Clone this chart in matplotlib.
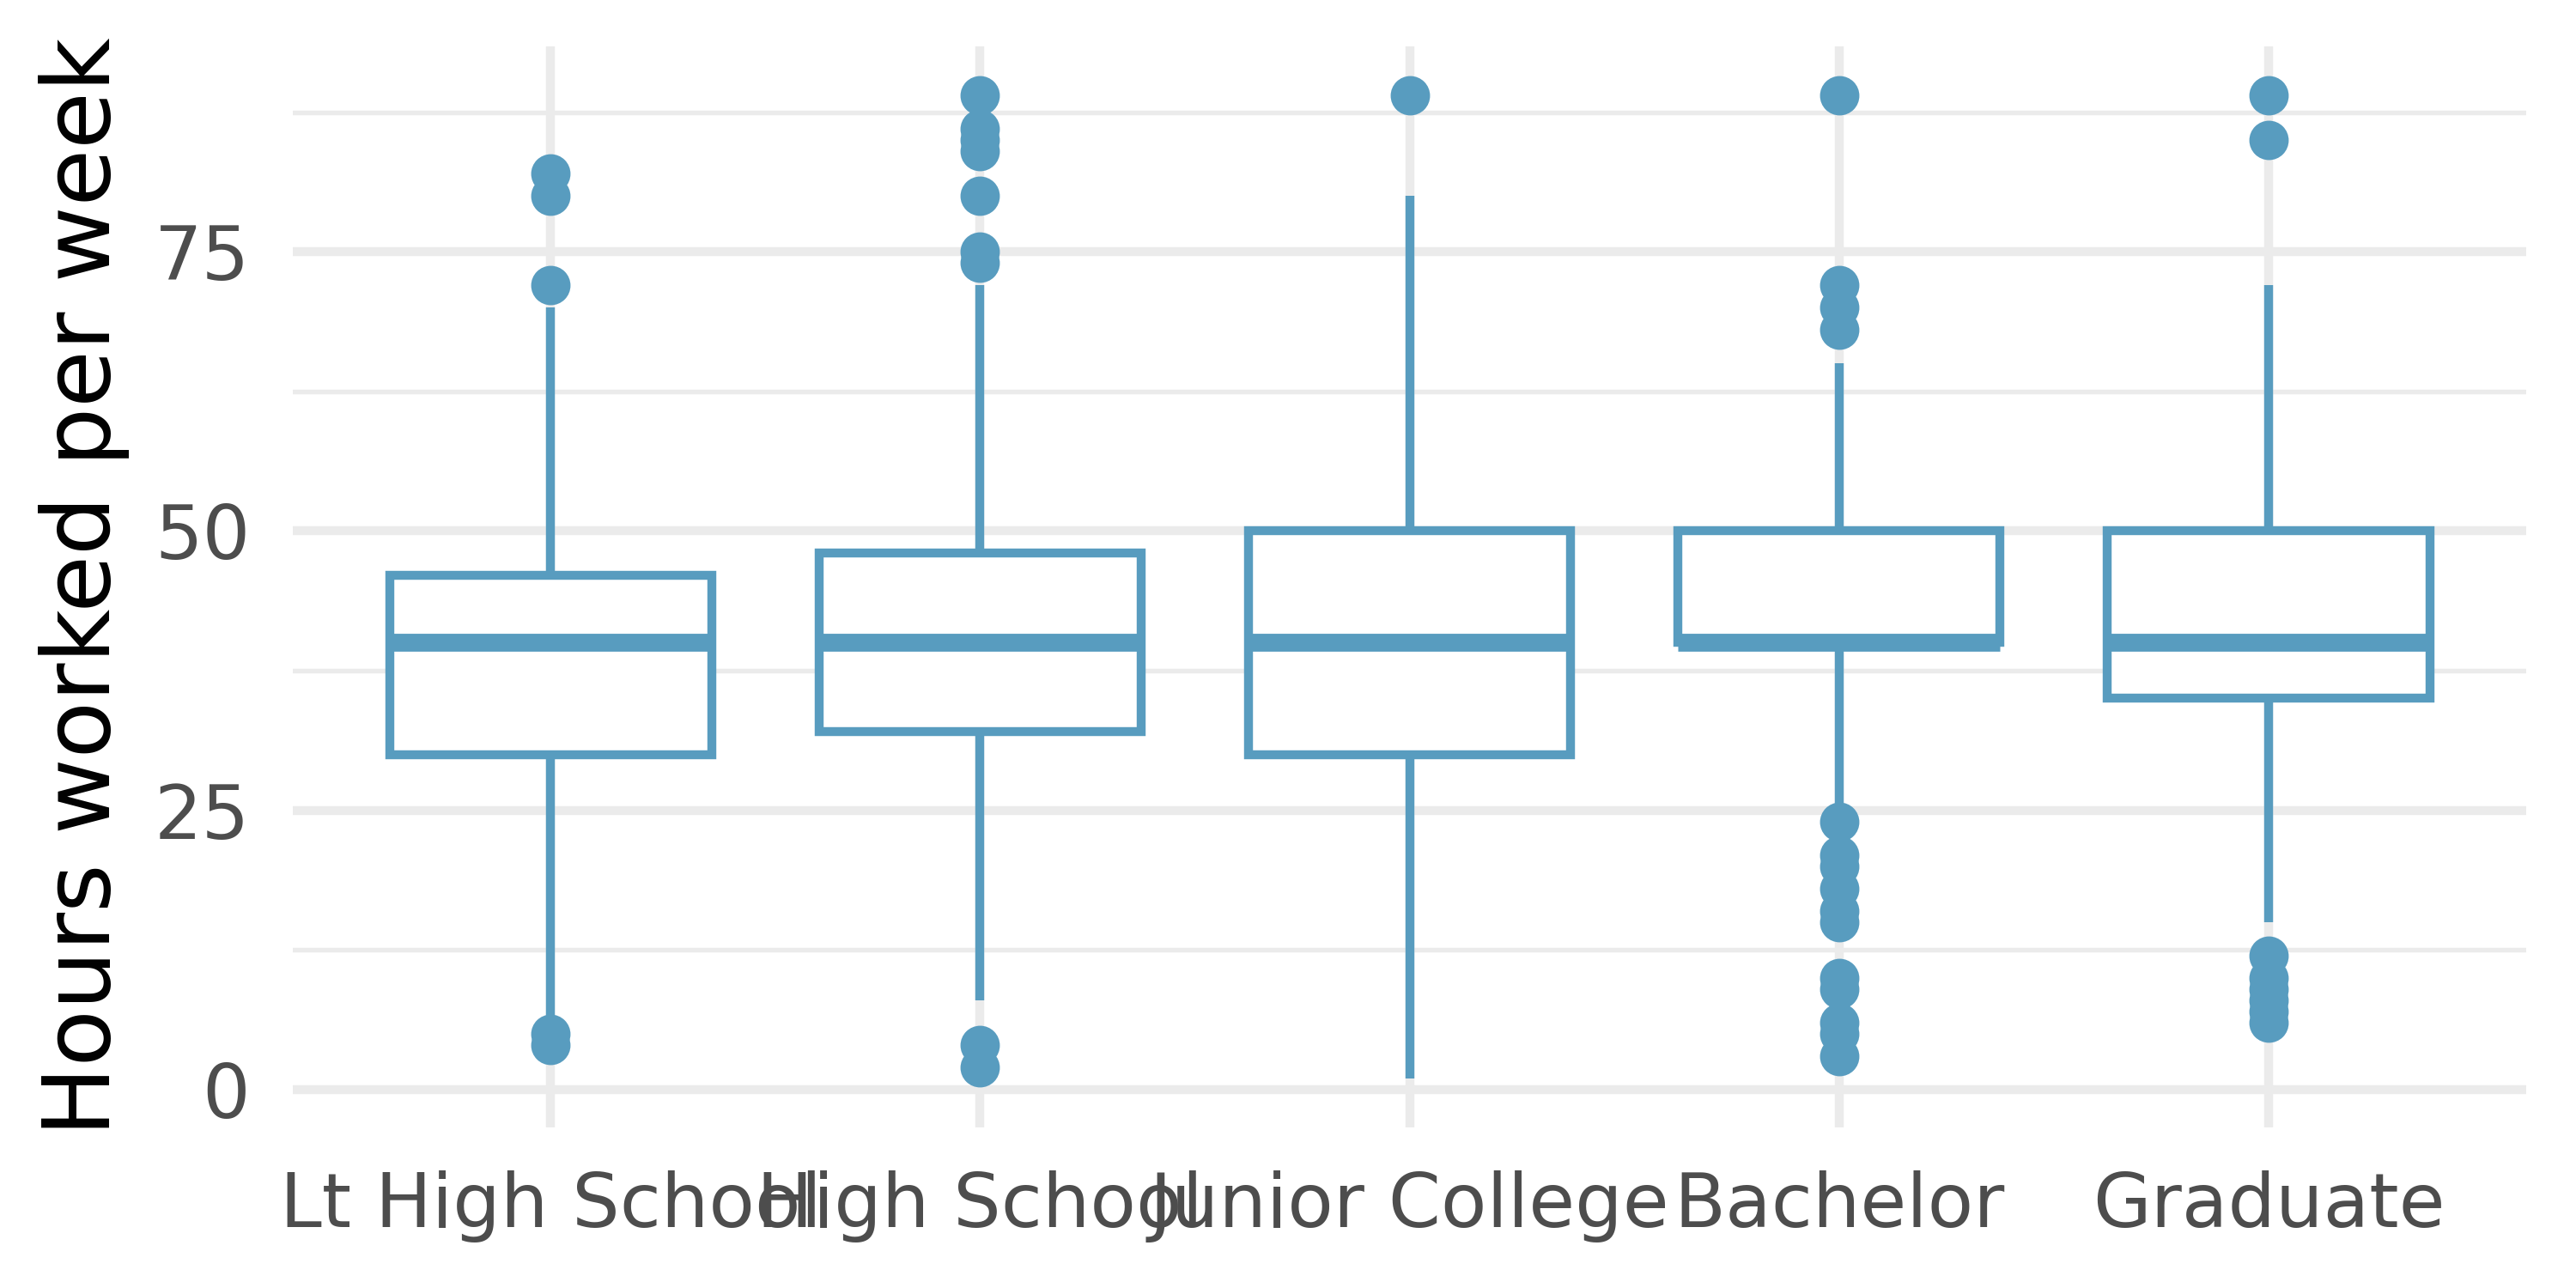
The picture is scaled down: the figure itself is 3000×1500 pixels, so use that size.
import matplotlib
matplotlib.use("Agg")
import matplotlib.pyplot as plt

degrees = ["Lt High School", "High School", "Junior College", "Bachelor", "Graduate"]

# box stats (hours per week)
q1 = [30, 32, 30, 40, 35]
med = [40, 40, 40, 40, 40]
q3 = [46, 48, 50, 50, 50]
whislo = [6, 8, 1, 25, 15]
whishi = [70, 72, 80, 65, 72]
fliers = [
    [82, 80, 72, 5, 4],
    [89, 86, 85, 84, 80, 75, 74, 4, 2],
    [89],
    [89, 72, 70, 68, 24, 21, 20, 18, 16, 15, 10, 9, 6, 5, 3],
    [89, 85, 12, 10, 9, 8, 7, 6],
]

blue = "#589CBF"
grid_col = "#EBEBEB"

stats = []
for i in range(len(degrees)):
    stats.append({"label": degrees[i], "q1": q1[i], "med": med[i], "q3": q3[i],
                  "whislo": whislo[i], "whishi": whishi[i], "fliers": fliers[i]})

fig = plt.figure(figsize=(10, 5), dpi=300)
ax = fig.add_axes([0.1137, 0.1247, 0.867, 0.8394])

pos = list(range(1, len(degrees) + 1))
ax.bxp(stats, positions=pos, widths=0.75, showcaps=False, patch_artist=True,
       boxprops=dict(facecolor="white", edgecolor=blue, linewidth=2.5),
       medianprops=dict(color=blue, linewidth=5, solid_capstyle="butt"),
       whiskerprops=dict(color=blue, linewidth=2.5, solid_capstyle="butt"),
       flierprops=dict(marker="o", markerfacecolor=blue, markeredgecolor=blue,
                       markersize=10, linestyle="none"),
       zorder=3)

ax.set_xlim(0.4, len(degrees) + 0.6)
ax.set_ylim(-3.4, 93.4)
ax.set_yticks([0, 25, 50, 75])
ax.set_yticks([12.5, 37.5, 62.5, 87.5], minor=True)
ax.set_xticks(pos)
ax.set_xticklabels(degrees)

ax.grid(which="major", axis="y", color=grid_col, linewidth=2.5)
ax.grid(which="minor", axis="y", color=grid_col, linewidth=1.3)
ax.grid(which="major", axis="x", color=grid_col, linewidth=2.5)
ax.set_axisbelow(True)

for s in ax.spines.values():
    s.set_visible(False)
ax.tick_params(which="both", length=0)
ax.tick_params(axis="y", labelsize=21, labelcolor="#4D4D4D", pad=12)
ax.tick_params(axis="x", labelsize=21, labelcolor="#4D4D4D", pad=12)

ax.set_ylabel("Hours worked per week", fontsize=26, color="black", labelpad=7)

fig.savefig("out.png", dpi=300, facecolor="white")
